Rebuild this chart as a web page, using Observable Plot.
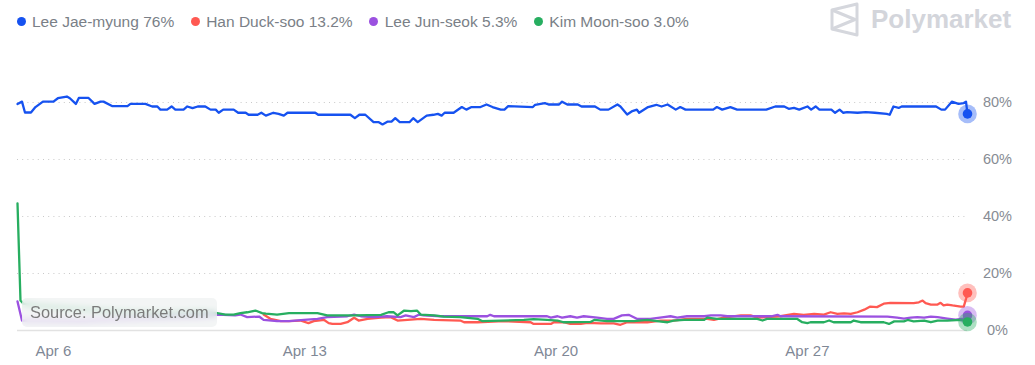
<!DOCTYPE html>
<html><head><meta charset="utf-8">
<script src="https://cdn.jsdelivr.net/npm/d3@7"></script>
<script src="https://cdn.jsdelivr.net/npm/@observablehq/plot@0.6"></script>
<style>
html,body{margin:0;padding:0;background:#fff;}
body{font-family:"Liberation Sans",Arial,sans-serif;}
#wrap{position:relative;width:1035px;height:365px;overflow:hidden;}
#legend{height:40px;display:flex;align-items:center;padding-left:16.5px;box-sizing:border-box;padding-top:3px;}
.item{display:flex;align-items:center;margin-right:16.5px;font-size:15.5px;color:#7a7f87;white-space:nowrap;}
.dot{width:9px;height:9px;border-radius:50%;margin-right:6.5px;}
#logo{position:absolute;left:0;top:0;}
#chart svg{display:block;overflow:visible;}
#source{position:absolute;left:22px;top:298px;width:195px;height:29px;border-radius:5px;
  background:rgba(238,241,241,0.72);backdrop-filter:blur(3px);-webkit-backdrop-filter:blur(3px);
  font-size:16.4px;color:#7b7b7b;line-height:29px;padding-left:8px;box-sizing:border-box;white-space:nowrap;}
</style></head><body>
<div id="wrap">
  <div id="legend"></div>
  <svg id="logo" width="1035" height="40">
    <g fill="none" stroke="#d5d7dd" stroke-width="3" stroke-linejoin="round">
      <path d="M857,4 L857,35 L832,29 L832,10 Z"/>
      <path d="M832,10 L855,19.5 L832,29"/>
    </g>
    <text x="871" y="28" font-family="Liberation Sans, Arial, sans-serif" font-weight="bold" font-size="26" fill="#d3d5db">Polymarket</text>
  </svg>
  <div id="chart"></div>
  <div id="source">Source: Polymarket.com</div>
</div>
<script>
// ---- data, values in percent ----
const names = ["Lee Jae-myung", "Han Duck-soo", "Lee Jun-seok", "Kim Moon-soo"];
const latest = ["76%", "13.2%", "5.3%", "3.0%"];
const colors = ["#1652F0", "#FF5952", "#9B51E0", "#27AE60"];
const xTickLabels = ["2025-04-06T00:00", "2025-04-13T00:00", "2025-04-20T00:00", "2025-04-27T00:00"];
const yTickValues = [0, 20, 40, 60, 80];

const leeJaeMyung = [["04-05T00:00",79.5],["04-05T03:00",80.3],["04-05T05:00",76.5],["04-05T09:00",76.5],["04-05T12:00",78.4],["04-05T17:00",80.3],["04-06T00:00",80.3],["04-06T03:00",81.5],["04-06T09:00",82.1],["04-06T11:00",81.5],["04-06T15:00",79.5],["04-06T17:00",81.6],["04-06T23:30",81.6],["04-07T03:30",79.5],["04-07T07:30",80.3],["04-07T09:30",80.3],["04-07T15:30",78.7],["04-08T01:30",78.7],["04-08T03:30",79.5],["04-08T13:30",79.5],["04-08T18:00",78.6],["04-08T21:30",78.6],["04-08T23:30",77.5],["04-09T04:00",77.5],["04-09T07:00",78.6],["04-09T09:30",77.5],["04-09T15:00",77.5],["04-09T17:30",78.6],["04-09T21:00",78.0],["04-10T00:30",78.6],["04-10T05:30",78.6],["04-10T09:00",77.5],["04-10T12:30",77.5],["04-10T14:30",76.4],["04-10T17:30",77.5],["04-11T00:30",77.5],["04-11T03:30",76.4],["04-11T08:30",76.4],["04-11T10:30",75.7],["04-11T16:30",75.7],["04-11T19:00",76.4],["04-11T22:00",75.4],["04-12T03:00",76.4],["04-12T06:30",76.0],["04-12T10:00",75.4],["04-12T12:30",76.4],["04-13T07:00",76.4],["04-13T09:00",75.7],["04-14T06:30",75.7],["04-14T09:30",74.5],["04-14T12:30",75.7],["04-14T16:30",75.7],["04-14T22:00",73.1],["04-15T01:30",73.1],["04-15T04:00",72.3],["04-15T07:30",73.3],["04-15T10:00",73.3],["04-15T12:30",74.5],["04-15T15:30",73.1],["04-15T22:00",73.1],["04-16T00:30",74.5],["04-16T03:30",73.1],["04-16T09:30",75.4],["04-16T14:00",75.7],["04-16T17:00",76.0],["04-16T19:30",75.4],["04-16T21:30",76.4],["04-17T03:30",76.4],["04-17T09:00",78.4],["04-17T12:00",77.5],["04-17T15:30",78.4],["04-17T21:30",78.4],["04-18T01:30",79.3],["04-18T05:30",78.4],["04-18T11:00",77.5],["04-18T13:30",77.5],["04-18T16:00",78.7],["04-19T08:30",78.4],["04-19T10:00",79.2],["04-19T16:30",79.8],["04-19T19:00",79.3],["04-20T02:00",79.3],["04-20T04:00",80.3],["04-20T07:30",79.3],["04-20T14:30",79.3],["04-20T17:00",78.6],["04-21T02:00",78.6],["04-21T05:30",77.5],["04-21T11:00",77.5],["04-21T17:00",79.3],["04-21T19:00",78.6],["04-21T23:30",75.8],["04-22T03:00",77.0],["04-22T06:00",77.5],["04-22T07:30",76.4],["04-22T13:30",78.4],["04-22T19:00",79.2],["04-22T22:30",78.6],["04-23T02:30",79.3],["04-23T08:00",77.5],["04-23T11:00",78.4],["04-23T14:30",77.5],["04-24T09:00",77.5],["04-24T11:30",78.4],["04-24T15:00",77.5],["04-24T20:30",78.4],["04-25T01:00",77.5],["04-25T20:30",77.5],["04-26T02:30",78.6],["04-26T08:30",78.6],["04-26T11:30",77.8],["04-26T15:00",78.1],["04-26T18:30",77.5],["04-27T00:00",78.6],["04-27T02:30",77.5],["04-27T05:30",78.6],["04-27T08:00",77.5],["04-27T16:00",77.5],["04-27T18:30",76.4],["04-27T21:30",77.5],["04-28T00:00",76.4],["04-28T02:30",76.6],["04-28T09:30",76.4],["04-28T15:00",76.6],["04-28T21:00",76.4],["04-29T05:00",76.0],["04-29T07:00",75.7],["04-29T09:30",78.6],["04-29T13:00",78.1],["04-29T15:00",78.6],["04-30T14:00",78.6],["04-30T17:30",77.5],["04-30T20:00",77.5],["05-01T00:30",80.3],["05-01T05:00",79.5],["05-01T08:30",79.8],["05-01T10:00",80.3],["05-01T11:00",76.0]];

const hanDuckSoo = [["04-11T20:30",5.6],["04-12T01:00",4.1],["04-12T08:00",3.3],["04-12T13:30",3.3],["04-12T21:00",3.5],["04-13T02:30",2.6],["04-13T06:00",3.3],["04-13T13:00",3.7],["04-13T16:00",2.6],["04-13T18:30",2.3],["04-14T00:00",2.3],["04-14T04:30",2.9],["04-14T09:00",4.5],["04-14T12:00",3.5],["04-14T18:00",4.1],["04-15T03:00",4.5],["04-15T09:30",4.7],["04-15T14:00",3.5],["04-16T05:30",4.1],["04-16T14:30",3.7],["04-17T08:00",3.5],["04-17T10:30",2.9],["04-17T19:30",2.9],["04-18T13:00",3.3],["04-19T07:00",2.9],["04-19T09:00",2.3],["04-19T20:30",2.3],["04-19T22:30",2.9],["04-20T05:00",2.9],["04-20T09:30",2.3],["04-20T16:30",2.3],["04-20T21:00",2.7],["04-21T06:00",2.5],["04-21T14:30",2.5],["04-21T19:00",2.0],["04-21T23:30",2.9],["04-22T13:00",2.9],["04-22T22:00",3.5],["04-23T06:30",3.5],["04-23T15:30",4.1],["04-24T05:00",4.1],["04-24T09:30",3.7],["04-24T16:00",4.5],["04-25T03:30",5.3],["04-25T10:00",5.3],["04-25T14:30",4.5],["04-26T06:00",5.0],["04-26T15:00",5.8],["04-26T21:30",5.5],["04-27T04:30",5.8],["04-27T11:00",5.6],["04-27T15:30",6.4],["04-27T20:00",5.8],["04-28T00:30",6.0],["04-28T05:00",5.8],["04-28T09:30",6.4],["04-28T14:00",7.3],["04-28T18:00",8.4],["04-28T22:30",8.2],["04-29T03:00",9.4],["04-29T07:30",9.7],["04-29T23:00",9.6],["04-30T02:30",9.9],["04-30T05:00",10.5],["04-30T07:00",9.6],["04-30T10:30",9.1],["04-30T15:00",9.1],["04-30T17:00",9.7],["04-30T19:00",8.8],["04-30T21:30",9.1],["05-01T01:00",8.8],["05-01T06:30",8.4],["05-01T08:30",8.4],["05-01T10:00",11.1],["05-01T11:00",13.2]];

const leeJunSeok = [["04-05T00:00",10.2],["04-05T03:00",3.5],["04-05T15:00",3.5],["04-06T18:00",3.3],["04-07T21:00",4.0],["04-08T23:30",4.5],["04-10T02:30",5.0],["04-10T13:30",5.6],["04-11T01:30",5.3],["04-11T05:00",5.6],["04-11T09:30",4.7],["04-11T17:30",4.9],["04-11T20:30",3.7],["04-12T05:30",3.3],["04-12T13:30",3.3],["04-12T23:30",3.7],["04-13T08:30",4.1],["04-13T15:00",4.7],["04-14T04:30",5.0],["04-14T09:00",5.6],["04-14T13:30",5.0],["04-14T22:00",4.7],["04-15T07:00",5.0],["04-15T16:00",4.7],["04-15T19:30",5.3],["04-16T01:00",4.7],["04-16T04:30",5.6],["04-16T07:30",5.3],["04-16T19:00",5.0],["04-18T02:00",5.0],["04-18T04:00",5.5],["04-18T06:30",5.0],["04-19T18:00",5.0],["04-19T20:30",4.5],["04-20T01:00",5.0],["04-20T04:00",4.5],["04-20T09:30",5.0],["04-20T14:00",4.5],["04-20T18:30",5.0],["04-21T03:30",4.5],["04-21T10:00",4.1],["04-21T14:30",4.1],["04-21T20:00",5.3],["04-22T00:30",5.5],["04-22T06:00",4.1],["04-22T15:00",4.1],["04-23T00:00",4.7],["04-23T04:30",5.0],["04-23T09:00",4.5],["04-23T15:30",5.0],["04-24T03:00",5.0],["04-24T07:30",5.3],["04-24T14:00",5.3],["04-24T18:30",5.0],["04-26T00:00",5.0],["04-26T04:00",5.5],["04-26T06:00",5.0],["04-29T05:30",4.9],["04-29T12:00",4.5],["04-29T16:30",4.2],["04-29T21:00",4.5],["04-30T01:30",4.7],["04-30T06:00",4.5],["04-30T10:30",4.9],["04-30T15:00",4.7],["04-30T21:30",4.2],["05-01T03:00",3.8],["05-01T08:30",4.2],["05-01T11:00",5.3]];

const kimMoonSoo = [["04-05T00:00",44.6],["04-05T02:00",10.5],["04-05T04:00",9.4],["04-05T15:00",8.5],["04-06T18:00",7.5],["04-07T21:00",6.5],["04-08T23:30",6.0],["04-10T02:30",6.4],["04-10T13:30",6.1],["04-10T19:00",5.6],["04-11T00:30",5.6],["04-11T05:00",6.1],["04-11T09:30",6.4],["04-11T15:00",7.0],["04-11T19:30",6.1],["04-11T22:00",5.9],["04-12T05:30",5.6],["04-12T13:30",6.1],["04-13T08:30",6.1],["04-13T15:00",5.3],["04-14T09:00",5.3],["04-15T03:00",5.5],["04-15T08:00",6.4],["04-15T11:30",6.4],["04-15T14:00",5.3],["04-15T18:30",7.0],["04-15T23:00",6.8],["04-16T03:00",7.0],["04-16T05:30",5.6],["04-16T14:30",5.3],["04-16T21:00",4.9],["04-17T08:00",4.7],["04-17T19:30",4.1],["04-17T22:30",3.3],["04-18T11:00",3.5],["04-19T02:30",3.7],["04-19T09:00",4.0],["04-19T18:00",3.7],["04-20T01:00",3.5],["04-20T05:00",2.9],["04-20T23:00",3.0],["04-21T01:30",3.7],["04-21T10:00",3.3],["04-22T04:00",3.3],["04-22T13:00",3.7],["04-22T19:30",3.3],["04-23T02:30",2.9],["04-23T06:30",3.5],["04-23T13:30",3.7],["04-24T03:00",3.7],["04-24T05:00",4.5],["04-24T11:30",4.1],["04-25T14:30",4.1],["04-25T18:00",3.5],["04-25T21:00",4.1],["04-26T17:00",4.1],["04-26T20:30",2.9],["04-27T00:00",2.6],["04-27T02:00",2.9],["04-27T11:00",2.9],["04-27T14:30",3.5],["04-27T17:30",2.9],["04-28T05:00",2.9],["04-28T07:00",3.5],["04-28T11:30",2.9],["04-29T03:00",2.9],["04-29T06:30",2.3],["04-29T10:00",3.2],["04-29T16:30",3.2],["04-29T19:00",3.7],["04-29T23:00",3.2],["04-30T06:00",3.5],["04-30T10:30",2.9],["04-30T15:00",3.5],["04-30T21:30",3.5],["05-01T06:30",3.7],["05-01T11:00",3.0]];

// ---- build ----
const parse = d3.utcParse("%Y-%m-%dT%H:%M");
const seriesData = [leeJaeMyung, hanDuckSoo, leeJunSeok, kimMoonSoo];
const rows = seriesData.map((arr, i) => arr.map(([t, v]) => ({name: names[i], date: parse("2025-" + t), value: v / 100})));
const drawOrder = [0, 1, 2, 3];
const lastPts = rows.map(r => r[r.length - 1]);
const colorOf = Object.fromEntries(names.map((n, i) => [n, colors[i]]));

// legend
const legend = document.getElementById("legend");
names.forEach((n, i) => {
  const it = document.createElement("div");
  it.className = "item";
  it.innerHTML = `<span class="dot" style="background:${colors[i]}"></span><span>${n} ${latest[i]}</span>`;
  legend.appendChild(it);
});

const allStart = rows[0][0].date, allEnd = lastPts[0].date;

const marks = [
  Plot.gridY(yTickValues.filter(d => d > 0).map(d => d / 100), {stroke: "#c9c9c9", strokeOpacity: 1, strokeDasharray: "1,4.2", strokeWidth: 1}),
  Plot.ruleY([0], {stroke: "#e2e2e2", strokeWidth: 1.5}),
  Plot.axisX({ticks: xTickLabels.map(parse), tickFormat: d3.utcFormat("%b %-d"), tickSize: 0, tickPadding: 15, fontSize: 15, fill: "#7f8896", label: null}),
  Plot.axisY({anchor: "right", ticks: yTickValues.map(d => d / 100), tickFormat: d => Math.round(d * 100) + "%", tickSize: 0, tickPadding: 30, textAnchor: "middle", fontSize: 14.5, fill: "#878c94", label: null})
];
drawOrder.forEach(i => {
  marks.push(Plot.line(rows[i], {x: "date", y: "value", stroke: colors[i], strokeWidth: 2.3, curve: "linear"}));
});
drawOrder.forEach(i => {
  marks.push(Plot.dot([lastPts[i]], {x: "date", y: "value", r: 9.3, fill: colors[i], fillOpacity: 0.38, stroke: "none"}));
  marks.push(Plot.dot([lastPts[i]], {x: "date", y: "value", r: 4.8, fill: colors[i], stroke: "none"}));
});

const chart = Plot.plot({
  width: 1035,
  height: 325,
  marginLeft: 17,
  marginRight: 68,
  marginTop: 5,
  marginBottom: 35,
  x: {type: "utc", domain: [allStart, allEnd]},
  y: {domain: [0, 1]},
  style: {fontFamily: "'Liberation Sans', Arial, sans-serif", background: "transparent", overflow: "visible"},
  marks
});
document.getElementById("chart").appendChild(chart);
</script>
</body></html>
